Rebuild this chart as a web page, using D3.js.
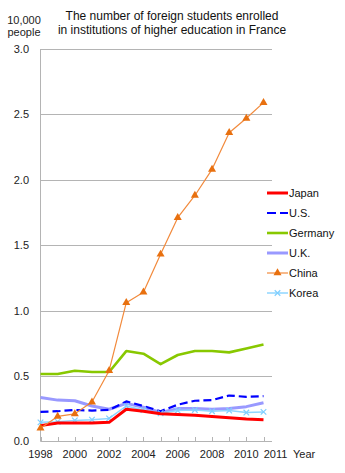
<!DOCTYPE html>
<html>
<head>
<meta charset="utf-8">
<script src="https://cdn.jsdelivr.net/npm/d3@7"></script>
<style>
  html, body { margin: 0; padding: 0; background: #fff; }
  svg { display: block; font-family: "Liberation Sans", Arial, sans-serif; }
</style>
</head>
<body>
<svg id="chart" width="345" height="473"></svg>
<script>
// Foreign students enrolled in French higher education (unit: 10,000 people)
const years = [1998, 1999, 2000, 2001, 2002, 2003, 2004, 2005, 2006, 2007, 2008, 2009, 2010, 2011];
const japan   = [0.12, 0.14, 0.14, 0.14, 0.145, 0.245, 0.23, 0.21, 0.205, 0.20, 0.19, 0.18, 0.17, 0.165];
const us      = [0.225, 0.23, 0.24, 0.235, 0.24, 0.305, 0.27, 0.23, 0.28, 0.31, 0.315, 0.35, 0.34, 0.345];
const germany = [0.515, 0.515, 0.54, 0.53, 0.53, 0.69, 0.67, 0.59, 0.66, 0.69, 0.69, 0.68, 0.71, 0.74];
const uk      = [0.335, 0.315, 0.31, 0.27, 0.245, 0.29, 0.26, 0.22, 0.25, 0.25, 0.245, 0.25, 0.265, 0.295];
const china   = [0.10, 0.19, 0.21, 0.30, 0.54, 1.06, 1.14, 1.43, 1.71, 1.88, 2.08, 2.36, 2.47, 2.59];
const korea   = [0.145, 0.15, 0.16, 0.165, 0.175, 0.27, 0.24, 0.215, 0.235, 0.24, 0.23, 0.235, 0.22, 0.225];

const yTicks = [0, 0.5, 1.0, 1.5, 2.0, 2.5, 3.0];
const xLabelYears = [1998, 2000, 2002, 2004, 2006, 2008, 2010, 2011];

const series = [
  { name: "Japan",   values: japan,   color: "#ff0000", width: 3,   dash: null },
  { name: "U.S.",    values: us,      color: "#0000ff", width: 2.2, dash: "8,4" },
  { name: "Germany", values: germany, color: "#88c800", width: 2.6, dash: null },
  { name: "U.K.",    values: uk,      color: "#9999ff", width: 3,   dash: null },
  { name: "China",   values: china,   color: "#f28a3c", width: 1.2, dash: null, marker: "triangle" },
  { name: "Korea",   values: korea,   color: "#8fd6ff", width: 1.5, dash: null, marker: "cross" }
];

const svg = d3.select("#chart");
const x = d3.scaleLinear().domain([1998, 2011]).range([40.5, 263.5]);
const y = d3.scaleLinear().domain([0, 3]).range([441.3, 49]);
const plotRight = 272;
const axisColor = "#b4b4b4";

// gridlines
svg.append("g").selectAll("line")
  .data(yTicks.filter(d => d > 0))
  .join("line")
  .attr("x1", x(1998)).attr("x2", plotRight)
  .attr("y1", d => Math.round(y(d)) + 0.5).attr("y2", d => Math.round(y(d)) + 0.5)
  .attr("stroke", axisColor).attr("stroke-width", 1);

// axes lines
svg.append("line")
  .attr("x1", x(1998)).attr("x2", x(1998))
  .attr("y1", y(3)).attr("y2", Math.round(y(0)) + 0.5)
  .attr("stroke", axisColor);
svg.append("line")
  .attr("x1", x(1998)).attr("x2", plotRight)
  .attr("y1", Math.round(y(0)) + 0.5).attr("y2", Math.round(y(0)) + 0.5)
  .attr("stroke", axisColor);

// x tick marks (inside)
svg.append("g").selectAll("line")
  .data(years)
  .join("line")
  .attr("x1", d => Math.round(x(d)) + 0.5).attr("x2", d => Math.round(x(d)) + 0.5)
  .attr("y1", Math.round(y(0)) + 0.5).attr("y2", Math.round(y(0)) - 4)
  .attr("stroke", axisColor);

// y tick labels
svg.append("g").selectAll("text")
  .data(yTicks)
  .join("text")
  .attr("x", 29).attr("y", d => y(d) + 4)
  .attr("text-anchor", "end")
  .attr("font-size", 11).attr("fill", "#222")
  .text(d => d.toFixed(1));

// x tick labels
svg.append("g").selectAll("text")
  .data(xLabelYears)
  .join("text")
  .attr("x", d => x(d) + (d === 2011 ? 12 : 0))
  .attr("y", 458)
  .attr("text-anchor", "middle")
  .attr("font-size", 11).attr("fill", "#222")
  .text(d => d);

svg.append("text").attr("x", 293).attr("y", 458)
  .attr("font-size", 11).attr("fill", "#222").text("Year");

// unit label
svg.append("text").attr("x", 24).attr("y", 23.5).attr("text-anchor", "middle")
  .attr("font-size", 11).attr("fill", "#222").text("10,000");
svg.append("text").attr("x", 24).attr("y", 35.5).attr("text-anchor", "middle")
  .attr("font-size", 11).attr("fill", "#222").text("people");

// title
const title = svg.append("text").attr("text-anchor", "middle")
  .attr("font-size", 12).attr("fill", "#111");
title.append("tspan").attr("x", 172).attr("y", 20).text("The number of foreign students enrolled");
title.append("tspan").attr("x", 172).attr("y", 34).text("in institutions of higher education in France");

// series lines
const line = d3.line().x((d, i) => x(years[i])).y(d => y(d));
const order = ["Germany", "U.K.", "U.S.", "Korea", "Japan", "China"];
order.forEach(n => {
  const s = series.find(e => e.name === n);
  svg.append("path")
    .datum(s.values)
    .attr("d", line)
    .attr("fill", "none")
    .attr("stroke", s.color)
    .attr("stroke-width", s.width)
    .attr("stroke-dasharray", s.dash)
    .attr("stroke-linejoin", "round");
  if (s.marker === "triangle") {
    svg.append("g").selectAll("path")
      .data(s.values)
      .join("path")
      .attr("transform", (d, i) => `translate(${x(years[i])},${y(d)})`)
      .attr("d", d3.symbol().type(d3.symbolTriangle).size(28))
      .attr("fill", "#e8700f");
  } else if (s.marker === "cross") {
    svg.append("g").selectAll("path")
      .data(s.values)
      .join("path")
      .attr("transform", (d, i) => `translate(${x(years[i])},${y(d)})`)
      .attr("d", d3.symbol().type(d3.symbolTimes).size(22))
      .attr("fill", "none")
      .attr("stroke", "#7fcfff")
      .attr("stroke-width", 1.2);
  }
});

// legend
const legend = svg.append("g");
series.forEach((s, i) => {
  const ly = 193 + i * 20;
  legend.append("line")
    .attr("x1", 267).attr("x2", 288)
    .attr("y1", ly).attr("y2", ly)
    .attr("stroke", s.color).attr("stroke-width", s.width)
    .attr("stroke-dasharray", s.dash ? "9,4" : null);
  if (s.marker === "triangle") {
    legend.append("path").attr("transform", `translate(277.5,${ly})`)
      .attr("d", d3.symbol().type(d3.symbolTriangle).size(28)).attr("fill", "#e8700f");
  } else if (s.marker === "cross") {
    legend.append("path").attr("transform", `translate(277.5,${ly})`)
      .attr("d", d3.symbol().type(d3.symbolTimes).size(22))
      .attr("fill", "none").attr("stroke", "#7fcfff").attr("stroke-width", 1.2);
  }
  legend.append("text")
    .attr("x", 289).attr("y", ly + 4)
    .attr("font-size", 11).attr("fill", "#111")
    .text(s.name);
});
</script>
</body>
</html>
